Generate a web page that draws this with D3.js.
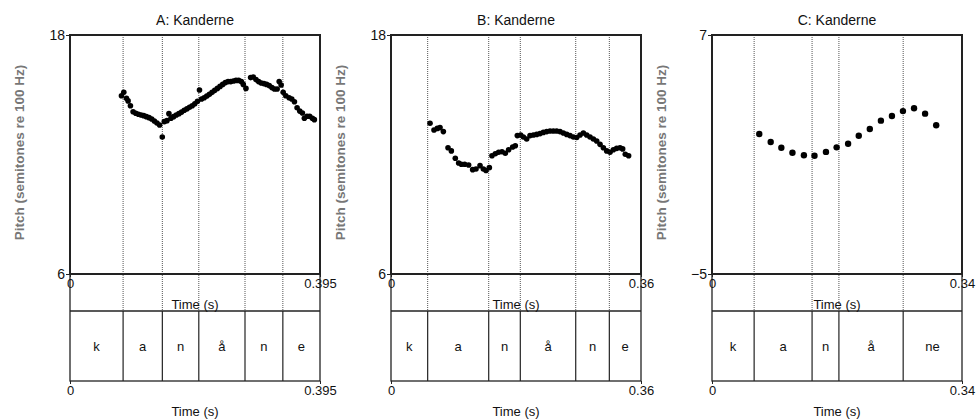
<!DOCTYPE html>
<html>
<head>
<meta charset="utf-8">
<script src="https://cdn.jsdelivr.net/npm/d3@7"></script>
<style>
  body { margin: 0; background: #fff; }
  svg { display: block; font-family: "Liberation Sans", Arial, sans-serif; }
</style>
</head>
<body>
<div id="chart"></div>
<script>
const titles = ["A: Kanderne", "B: Kanderne", "C: Kanderne"];
const durations = [0.395, 0.36, 0.34];
const durationLabels = ["0.395", "0.36", "0.34"];
const yMins = [6, 6, -5];
const yMaxs = [18, 18, 7];

const segLabels = [
  ["k", "a", "n", "å", "n", "e"],
  ["k", "a", "n", "å", "n", "e"],
  ["k", "a", "n", "å", "ne"]
];
const segBounds = [
  [0.0839, 0.1459, 0.2035, 0.2765, 0.3363],
  [0.0528, 0.1407, 0.1862, 0.2660, 0.3144],
  [0.0573, 0.1361, 0.1726, 0.2600]
];

const timesA = [0.0813, 0.0850, 0.0892, 0.0918, 0.0955, 0.0997, 0.1039, 0.1081, 0.1123, 0.1165,
  0.1207, 0.1249, 0.1291, 0.1333, 0.1374, 0.1416, 0.1458, 0.1490, 0.1532, 0.1563,
  0.1595, 0.1637, 0.1679, 0.1721, 0.1763, 0.1805, 0.1847, 0.1889, 0.1931, 0.1972,
  0.2014, 0.2046, 0.2078, 0.2120, 0.2161, 0.2203, 0.2245, 0.2287, 0.2329, 0.2371,
  0.2413, 0.2455, 0.2497, 0.2539, 0.2581, 0.2623, 0.2665, 0.2707, 0.2738, 0.2780,
  0.2854, 0.2896, 0.2938, 0.2980, 0.3022, 0.3064, 0.3106, 0.3148, 0.3190, 0.3231,
  0.3273, 0.3305, 0.3336, 0.3368, 0.3410, 0.3462, 0.3504, 0.3546, 0.3588, 0.3630,
  0.3672, 0.3703, 0.3745, 0.3787, 0.3829, 0.3861];
const pitchA = [14.95, 15.12, 14.82, 14.69, 14.45, 14.15, 14.07, 14.02, 13.98, 13.95,
  13.90, 13.85, 13.78, 13.68, 13.58, 13.48, 12.88, 13.65, 13.70, 14.05,
  13.82, 13.90, 13.98, 14.05, 14.13, 14.22, 14.29, 14.37, 14.45, 14.55,
  14.67, 15.24, 14.79, 14.85, 14.94, 15.02, 15.12, 15.22, 15.32, 15.42,
  15.52, 15.61, 15.66, 15.66, 15.69, 15.72, 15.72, 15.66, 15.52, 15.32,
  15.86, 15.89, 15.76, 15.66, 15.59, 15.56, 15.52, 15.46, 15.36, 15.29,
  15.29, 15.66, 15.49, 15.12, 14.95, 14.85, 14.79, 14.65, 14.35, 14.18,
  14.08, 13.82, 13.92, 13.92, 13.82, 13.75];

const timesB = [0.0562, 0.0619, 0.0667, 0.0706, 0.0754, 0.0821, 0.0869, 0.0926, 0.0974, 0.1013,
  0.1061, 0.1118, 0.1176, 0.1224, 0.1282, 0.1330, 0.1368, 0.1416, 0.1454, 0.1502,
  0.1550, 0.1598, 0.1646, 0.1694, 0.1752, 0.1790, 0.1819, 0.1867, 0.1906, 0.1954,
  0.2002, 0.2050, 0.2098, 0.2146, 0.2194, 0.2242, 0.2290, 0.2338, 0.2386, 0.2434,
  0.2482, 0.2530, 0.2578, 0.2626, 0.2674, 0.2722, 0.2770, 0.2818, 0.2866, 0.2914,
  0.2962, 0.3010, 0.3058, 0.3106, 0.3154, 0.3202, 0.3250, 0.3298, 0.3336, 0.3374,
  0.3422];
const pitchB = [13.57, 13.23, 13.31, 13.35, 13.15, 12.34, 12.18, 11.81, 11.57, 11.51,
  11.51, 11.47, 11.24, 11.27, 11.44, 11.27, 11.20, 11.34, 11.94, 12.04,
  12.11, 12.14, 12.06, 12.24, 12.38, 12.44, 12.95, 12.98, 12.88, 12.78,
  12.95, 12.98, 13.01, 13.05, 13.11, 13.15, 13.18, 13.18, 13.18, 13.15,
  13.08, 13.01, 12.95, 12.88, 12.85, 12.98, 13.08, 12.98, 12.88, 12.78,
  12.68, 12.51, 12.34, 12.18, 12.11, 12.24, 12.31, 12.34, 12.28, 12.01,
  11.94];

const timesC = [0.0643, 0.0798, 0.0943, 0.1094, 0.1250, 0.1394, 0.1550, 0.1695, 0.1851,
  0.1996, 0.2146, 0.2297, 0.2447, 0.2597, 0.2748, 0.2898, 0.3049];
const pitchC = [2.03, 1.63, 1.34, 1.09, 0.96, 0.94, 1.13, 1.36, 1.54,
  1.94, 2.28, 2.70, 2.93, 3.18, 3.32, 3.05, 2.47];

const allTimes = [timesA, timesB, timesC];
const allPitch = [pitchA, pitchB, pitchC];
const dotRadius = [2.8, 2.8, 3.2];

const width = 976, height = 419;
const lefts = [70, 391, 712];
const plotW = 250;
const pitchTop = 35, pitchBottom = 274, tierTop = 311, tierBottom = 381;

const svg = d3.select("#chart").append("svg")
  .attr("width", width)
  .attr("height", height);

titles.forEach((title, p) => {
  const left = lefts[p];
  const x = d3.scaleLinear().domain([0, durations[p]]).range([left, left + plotW]);
  const y = d3.scaleLinear().domain([yMins[p], yMaxs[p]]).range([pitchBottom, pitchTop]);
  const g = svg.append("g");

  // dotted segment boundaries through pitch area
  g.selectAll("line.bound")
    .data(segBounds[p])
    .join("line")
      .attr("x1", d => x(d)).attr("x2", d => x(d))
      .attr("y1", pitchTop).attr("y2", tierTop)
      .attr("stroke", "#555")
      .attr("stroke-width", 1)
      .attr("stroke-dasharray", "1,1");

  // tier boundaries (solid)
  g.selectAll("line.tier")
    .data(segBounds[p])
    .join("line")
      .attr("x1", d => x(d)).attr("x2", d => x(d))
      .attr("y1", tierTop).attr("y2", tierBottom)
      .attr("stroke", "#222")
      .attr("stroke-width", 1.2);

  // outer frame
  g.append("rect")
    .attr("x", left).attr("y", pitchTop)
    .attr("width", plotW).attr("height", tierBottom - pitchTop)
    .attr("fill", "none").attr("stroke", "#222").attr("stroke-width", 1.3);
  g.append("rect")
    .attr("x", left).attr("y", pitchTop)
    .attr("width", plotW).attr("height", pitchBottom - pitchTop)
    .attr("fill", "none").attr("stroke", "#222").attr("stroke-width", 2);
  g.append("line")
    .attr("x1", left).attr("x2", left + plotW)
    .attr("y1", tierTop).attr("y2", tierTop)
    .attr("stroke", "#222").attr("stroke-width", 1.3);

  // pitch dots
  g.selectAll("circle")
    .data(allTimes[p].map((t, i) => [t, allPitch[p][i]]))
    .join("circle")
      .attr("cx", d => x(d[0]))
      .attr("cy", d => y(d[1]))
      .attr("r", dotRadius[p])
      .attr("fill", "#000");

  // y axis (only min & max)
  g.append("g")
    .attr("transform", `translate(${left},0)`)
    .call(d3.axisLeft(y).tickValues([yMins[p], yMaxs[p]]).tickSize(4).tickPadding(1).tickFormat(d3.format("d")))
    .call(a => a.select(".domain").remove())
    .call(a => a.selectAll("text").attr("font-size", 14).attr("fill", "#111").attr("font-family", "Liberation Sans, Arial, sans-serif"))
    .call(a => a.selectAll("line").attr("stroke", "#222"));

  // x axes under pitch area and under tier
  [pitchBottom, tierBottom].forEach(yy => {
    g.append("g")
      .attr("transform", `translate(0,${yy})`)
      .call(d3.axisBottom(x).tickValues([0, durations[p]]).tickSize(3).tickPadding(2)
        .tickFormat((d, i) => i === 0 ? "0" : durationLabels[p]))
      .call(a => a.select(".domain").remove())
      .call(a => a.selectAll("text").attr("font-size", 13).attr("fill", "#111").attr("font-family", "Liberation Sans, Arial, sans-serif"))
      .call(a => a.selectAll("line").attr("stroke", "#222"));
    g.append("text")
      .attr("x", left + plotW / 2)
      .attr("y", yy + 35)
      .attr("text-anchor", "middle")
      .attr("font-size", 13)
      .attr("fill", "#111")
      .text("Time (s)");
  });

  // tier labels
  const edges = [0, ...segBounds[p], durations[p]];
  g.selectAll("text.seg")
    .data(segLabels[p])
    .join("text")
      .attr("x", (d, i) => x((edges[i] + edges[i + 1]) / 2))
      .attr("y", (tierTop + tierBottom) / 2 + 5)
      .attr("text-anchor", "middle")
      .attr("font-size", 13)
      .attr("fill", "#111")
      .text(d => d);

  // title
  g.append("text")
    .attr("x", left + plotW / 2)
    .attr("y", 25)
    .attr("text-anchor", "middle")
    .attr("font-size", 14)
    .attr("fill", "#111")
    .text(title);

  // y label
  g.append("text")
    .attr("transform", `translate(${left - 46},${(pitchTop + pitchBottom) / 2 - 2}) rotate(-90)`)
    .attr("text-anchor", "middle")
    .attr("font-size", 13.5)
    .attr("font-weight", "bold")
    .attr("fill", "#777")
    .text("Pitch (semitones re 100 Hz)");
});
</script>
</body>
</html>
